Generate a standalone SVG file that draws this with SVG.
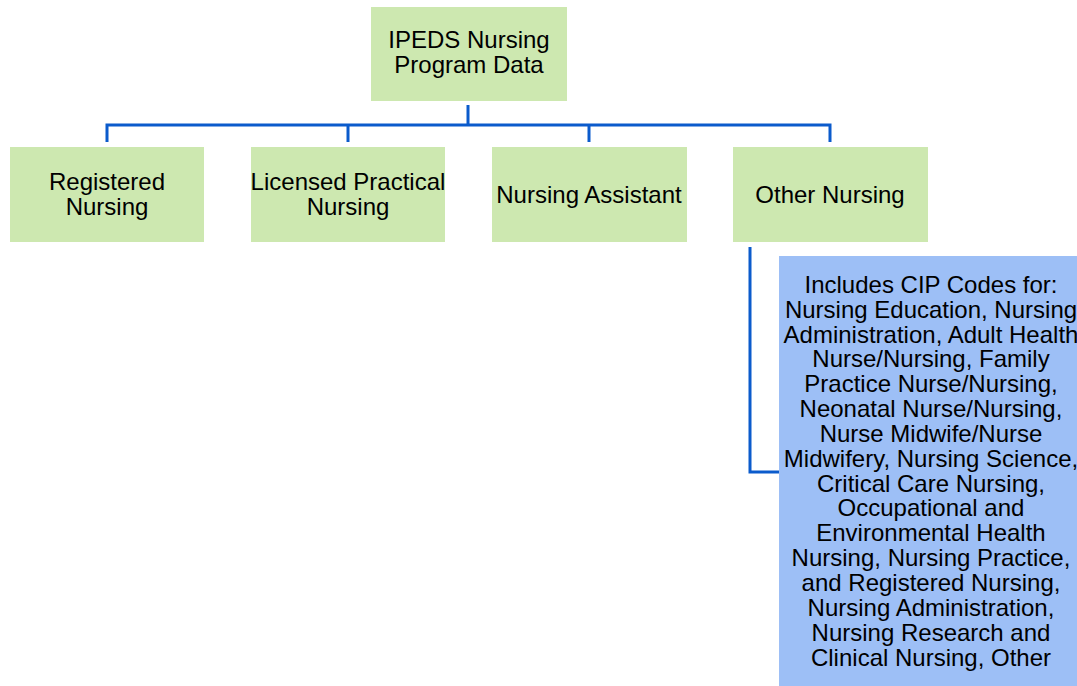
<svg xmlns="http://www.w3.org/2000/svg" width="1077" height="686" viewBox="0 0 1077 686">
<style>
.g{fill:#cde8b0}
.b{fill:#9dbff6}
.t{font-family:"Liberation Sans",Arial,sans-serif;font-size:24px;fill:#000;text-anchor:middle}
.c{fill:none;stroke:#0b5bcc;stroke-width:3;stroke-linejoin:miter;stroke-linecap:butt}
</style>
<rect width="1077" height="686" fill="#fff"/>
<g id="connectors">
<path class="c" d="M468,105 V125"/>
<path class="c" d="M107,142 V125 H830 V142"/>
<path class="c" d="M348,125 V142"/>
<path class="c" d="M589,125 V142"/>
<path class="c" d="M750,247 V472 H779"/>
</g>
<g id="root">
<rect class="g" x="371" y="7" width="196" height="94"/>
<text class="t" x="469" y="48">IPEDS Nursing</text>
<text class="t" x="469" y="73">Program Data</text>
</g>
<g id="registered">
<rect class="g" x="10" y="147" width="194" height="95"/>
<text class="t" x="107" y="190">Registered</text>
<text class="t" x="107" y="215">Nursing</text>
</g>
<g id="licensed">
<rect class="g" x="251" y="147" width="194" height="95"/>
<text class="t" x="348" y="190">Licensed Practical</text>
<text class="t" x="348" y="215">Nursing</text>
</g>
<g id="assistant">
<rect class="g" x="492" y="147" width="195" height="95"/>
<text class="t" x="589" y="203">Nursing Assistant</text>
</g>
<g id="other">
<rect class="g" x="733" y="147" width="195" height="95"/>
<text class="t" x="830" y="203">Other Nursing</text>
</g>
<g id="cip">
<rect class="b" x="779" y="256" width="304" height="430"/>
<text class="t" x="931" y="293">Includes CIP Codes for:</text>
<text class="t" x="931" y="318">Nursing Education, Nursing</text>
<text class="t" x="931" y="343">Administration, Adult Health</text>
<text class="t" x="931" y="367">Nurse/Nursing, Family</text>
<text class="t" x="931" y="392">Practice Nurse/Nursing,</text>
<text class="t" x="931" y="417">Neonatal Nurse/Nursing,</text>
<text class="t" x="931" y="442">Nurse Midwife/Nurse</text>
<text class="t" x="931" y="467">Midwifery, Nursing Science,</text>
<text class="t" x="931" y="492">Critical Care Nursing,</text>
<text class="t" x="931" y="516">Occupational and</text>
<text class="t" x="931" y="541">Environmental Health</text>
<text class="t" x="931" y="566">Nursing, Nursing Practice,</text>
<text class="t" x="931" y="591">and Registered Nursing,</text>
<text class="t" x="931" y="616">Nursing Administration,</text>
<text class="t" x="931" y="641">Nursing Research and</text>
<text class="t" x="931" y="666">Clinical Nursing, Other</text>
</g>
</svg>
